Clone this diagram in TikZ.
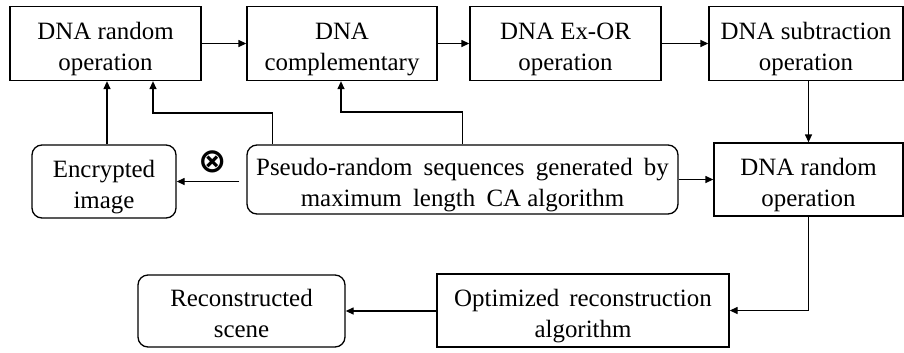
\documentclass[tikz,border=0pt]{standalone}
\usepackage{fontspec}
\setmainfont{Liberation Serif}
\newfontfamily\symfont{DejaVu Sans}
\usetikzlibrary{arrows.meta}
\newcommand\fsz{\fontsize{25}{31}\selectfont}
\tikzset{
  box/.style={draw, line width=1.3bp, align=center, font=\fsz, inner sep=0pt,
    text height=53bp, text depth=0bp},
  rbox/.style={box, rounded corners=10bp},
  arr/.style={line width=1.3bp, -{Triangle[length=8bp,width=7bp]}}
}
\begin{document}
\begin{tikzpicture}[x=1bp,y=-1bp]
\useasboundingbox (0,0) rectangle (904,352);
% top row
\node[box, minimum width=191bp, minimum height=74bp] (b1) at (105.5,43.5) {DNA random\\operation};
\node[box, minimum width=190bp, minimum height=74bp] (b2) at (342,43.5) {DNA\\complementary};
\node[box, minimum width=191bp, minimum height=74bp] (b3) at (565.5,43.5) {DNA Ex-OR\\operation};
\node[box, minimum width=194bp, minimum height=74bp] (b4) at (806,43.5) {DNA subtraction\\operation};
% middle row
\node[rbox, minimum width=144bp, minimum height=73bp] (enc) at (104,181.5) {Encrypted\\image};
\node[rbox, minimum width=431bp, minimum height=69bp] (ps) at (462.5,179.5) {Pseudo-random\hspace{0.45em}sequences\hspace{0.45em}generated\hspace{0.45em}by\\maximum\hspace{0.45em}length\hspace{0.45em}CA algorithm};
\node[box, minimum width=189bp, minimum height=73bp] (b5) at (808.5,179.5) {DNA random\\operation};
% bottom row
\node[rbox, minimum width=207bp, minimum height=72bp] (rec) at (241.5,311) {Reconstructed\\scene};
\node[box, minimum width=292bp, minimum height=73bp] (opt) at (583,310.5) {Optimized\hspace{0.4em}reconstruction\\algorithm};
% symbol
\node[font=\symfont\fontsize{34}{34}\selectfont\bfseries, inner sep=0pt] (xo) at (213,162) {⊗};
% junction coordinates
\coordinate (j1) at (153,113);
\coordinate (j2) at (341,112);
% connectors
\draw[arr] (b1) -- (b2);
\draw[arr] (b2) -- (b3);
\draw[arr] (b3) -- (b4);
\draw[arr] (b5.north |- b4.south) -- (b5.north);
\draw[arr] (ps) -- (b5);
\draw[arr] (b5.south) |- (opt.east);
\draw[arr] (opt.west |- rec.east) -- (rec.east);
\draw[arr] ([xshift=-7bp]ps.west |- enc.east) -- (enc.east);
\draw[arr] ([xshift=3bp]enc.north) -- ([xshift=3bp]enc.north |- b1.south);
\draw[arr] ([xshift=26bp]ps.north west) |- (j1) -- (j1 |- b1.south);
\draw[arr] (ps.north) |- (j2) -- (j2 |- b2.south);
\end{tikzpicture}
\end{document}
